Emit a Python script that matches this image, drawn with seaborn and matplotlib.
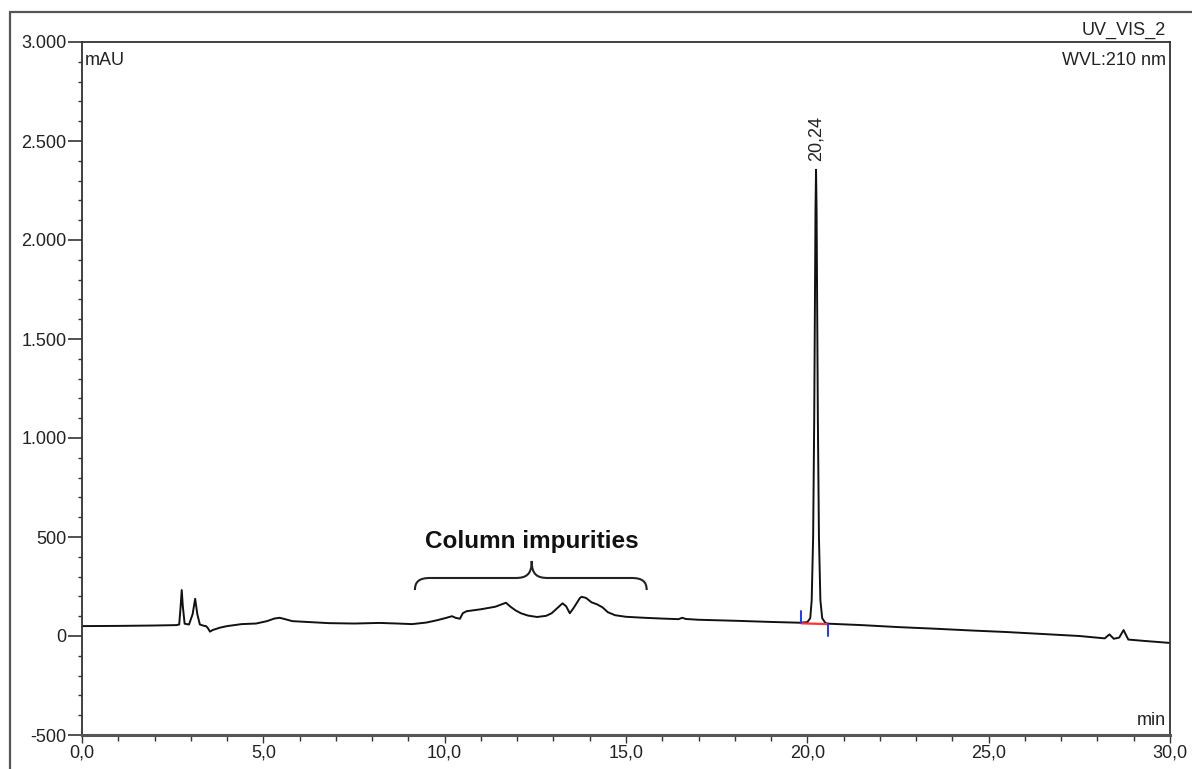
import numpy as np
import pandas as pd
import seaborn as sns
import matplotlib
matplotlib.use("Agg")
import matplotlib.pyplot as plt
from matplotlib.ticker import MultipleLocator
from matplotlib.path import Path
from matplotlib.patches import PathPatch
from matplotlib.lines import Line2D

# ---------------- data ----------------
time_min = [0.0, 1.0, 2.0, 2.6, 2.68, 2.72, 2.75, 2.78, 2.83, 2.95, 3.05, 3.12, 3.18, 3.25,
            3.35, 3.42, 3.47, 3.53, 3.6, 3.8, 4.0, 4.4, 4.8, 5.1, 5.3, 5.45, 5.6, 5.8,
            6.3, 6.8, 7.5, 8.2, 8.7, 9.1, 9.5, 9.8, 10.05, 10.2, 10.3, 10.42, 10.5, 10.6,
            11.0, 11.4, 11.69, 11.8, 11.95, 12.1, 12.3, 12.55, 12.8, 12.95, 13.1, 13.25,
            13.35, 13.45, 13.55, 13.73, 13.78, 13.9, 14.05, 14.2, 14.35, 14.5, 14.7, 15.0,
            15.5, 16.0, 16.45, 16.55, 16.65, 17.0, 18.0, 19.0, 19.8, 20.0, 20.08, 20.12,
            20.16, 20.19, 20.21, 20.225, 20.24, 20.255, 20.27, 20.29, 20.32, 20.36,
            20.41, 20.5, 20.6, 21.5, 22.5, 23.5, 24.5, 25.5, 26.5, 27.5, 28.2, 28.33,
            28.45, 28.6, 28.72, 28.85, 29.3, 30.0]
signal_mau = [50, 51, 53, 55, 58, 150, 232, 150, 62, 58, 110, 188, 110, 58,
              52, 50, 40, 22, 30, 42, 50, 60, 63, 75, 88, 92, 85, 75,
              70, 65, 63, 66, 63, 60, 68, 80, 92, 100, 92, 87, 115, 125,
              135, 148, 168, 150, 130, 115, 103, 96, 102, 115, 140, 165,
              150, 115, 140, 192, 198, 192, 170, 160, 145, 120, 105, 97,
              92, 88, 85, 92, 86, 82, 77, 71, 67, 70, 90, 180,
              500, 1100, 1700, 2150, 2355, 2150, 1700, 1100, 500, 180,
              90, 65, 62, 55, 45, 37, 28, 20, 10, 0, -12, 8,
              -14, -8, 30, -18, -25, -35]

peak_rt = 20.24
peak_label = "20,24"
baseline_t = [19.82, 20.56]
baseline_v = [64, 60]

y_ticks = [-500, 0, 500, 1000, 1500, 2000, 2500, 3000]
y_tick_labels = ["-500", "0", "500", "1.000", "1.500", "2.000", "2.500", "3.000"]
x_ticks = [0, 5, 10, 15, 20, 25, 30]
x_tick_labels = ["0,0", "5,0", "10,0", "15,0", "20,0", "25,0", "30,0"]

df = pd.DataFrame({"time": time_min, "signal": signal_mau})

# ---------------- style ----------------
sns.set_theme(style="white")
plt.rcParams["font.family"] = ["Liberation Sans", "DejaVu Sans"]
TXT = "#222222"
SPINE = "#333333"

W, H = 1192, 769
fig = plt.figure(figsize=(W / 100, H / 100), dpi=100)
L, R, T, B = 82, 1170, 42, 735
ax = fig.add_axes([L / W, 1 - B / H, (R - L) / W, (B - T) / H])

sns.lineplot(data=df, x="time", y="signal", estimator=None, sort=False,
             color="#111111", linewidth=1.4, ax=ax)

# integration baseline markers
ax.plot(baseline_t, baseline_v, color="#ff3333", linewidth=1.6, solid_capstyle="butt")
ax.plot([baseline_t[0], baseline_t[0]], [baseline_v[0], baseline_v[0] + 60],
        color="#2233ff", linewidth=1.4)
ax.plot([baseline_t[1], baseline_t[1]], [baseline_v[1], baseline_v[1] - 60],
        color="#2233ff", linewidth=1.4)

ax.set_xlim(0, 30)
ax.set_ylim(-500, 3000)
ax.set_xticks(x_ticks)
ax.set_xticklabels(x_tick_labels)
ax.set_yticks(y_ticks)
ax.set_yticklabels(y_tick_labels)
ax.xaxis.set_minor_locator(MultipleLocator(1))
ax.yaxis.set_minor_locator(MultipleLocator(100))
ax.set_xlabel("")
ax.set_ylabel("")

ax.tick_params(axis="y", which="major", direction="out", length=10, width=1.2,
               color=SPINE, pad=1, labelsize=13, labelcolor=TXT)
ax.tick_params(axis="y", which="minor", direction="out", length=3, width=1.0, color=SPINE)
ax.tick_params(axis="x", which="major", direction="out", length=5.5, width=1.0,
               color=SPINE, pad=1.5, labelsize=13, labelcolor=TXT)
ax.tick_params(axis="x", which="minor", direction="out", length=4.5, width=1.0, color=SPINE)
ax.tick_params(left=True, bottom=True, which="both")

for side in ["left", "top", "right"]:
    ax.spines[side].set_color(SPINE)
    ax.spines[side].set_linewidth(1.3)
ax.spines["bottom"].set_color("#555555")
ax.spines["bottom"].set_linewidth(2.2)

# labels
ax.text(0.003, 0.985, "mAU", transform=ax.transAxes, ha="left", va="top",
        fontsize=13, color=TXT)
ax.text(0.996, 0.985, "WVL:210 nm", transform=ax.transAxes, ha="right", va="top",
        fontsize=13, color=TXT)
ax.text(0.996, 1.005, "UV_VIS_2", transform=ax.transAxes, ha="right", va="bottom",
        fontsize=13, color=TXT)
ax.text(0.996, 0.008, "min", transform=ax.transAxes, ha="right", va="bottom",
        fontsize=13, color=TXT)
ax.annotate(peak_label, xy=(peak_rt, 2355), xytext=(0, 6), textcoords="offset points",
            rotation=90, ha="center", va="bottom", fontsize=13, color=TXT)

# column impurities brace and label
bx0, bx1, btip = 9.18, 15.57, 12.40
by_end, by_bar, by_tip = 232, 293, 379
verts = [(bx0, by_end), (bx0, 275), (bx0 + 0.12, by_bar), (bx0 + 0.42, by_bar),
         (btip - 0.45, by_bar),
         (btip - 0.15, by_bar), (btip, 310), (btip, by_tip),
         (btip, 310), (btip + 0.15, by_bar), (btip + 0.45, by_bar),
         (bx1 - 0.42, by_bar),
         (bx1 - 0.12, by_bar), (bx1, 275), (bx1, by_end)]
codes = [Path.MOVETO, Path.CURVE4, Path.CURVE4, Path.CURVE4,
         Path.LINETO,
         Path.CURVE4, Path.CURVE4, Path.CURVE4,
         Path.CURVE4, Path.CURVE4, Path.CURVE4,
         Path.LINETO,
         Path.CURVE4, Path.CURVE4, Path.CURVE4]
ax.add_patch(PathPatch(Path(verts, codes), facecolor="none", edgecolor="#222222",
                       linewidth=1.5))
ax.text(btip, 476, "Column impurities", ha="center", va="center", fontsize=17.5,
        fontweight="bold", color="#111111")

# outer page frame
fig.add_artist(Line2D([10 / W, 1.0], [1 - 12 / H, 1 - 12 / H], transform=fig.transFigure,
                      color="#555555", linewidth=1.6))
fig.add_artist(Line2D([10 / W, 10 / W], [0.0, 1 - 12 / H], transform=fig.transFigure,
                      color="#555555", linewidth=1.6))

fig.savefig("out.png", dpi=100)
